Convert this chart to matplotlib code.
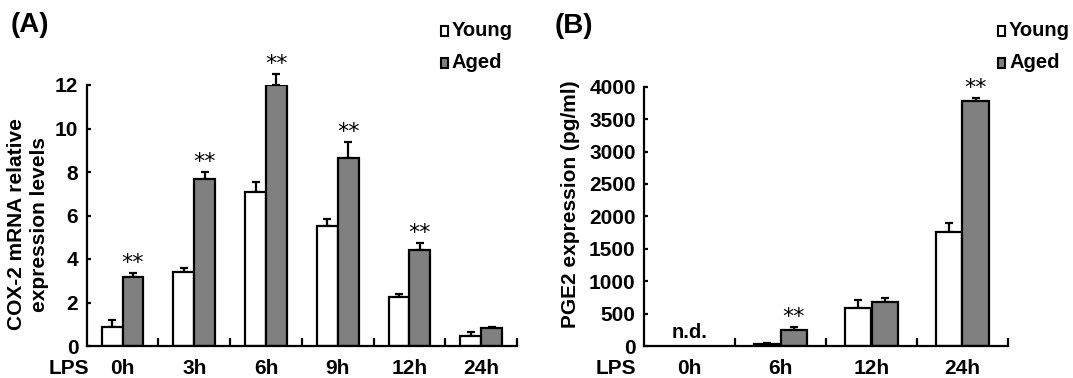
import numpy as np
import matplotlib
matplotlib.use("Agg")
import matplotlib.pyplot as plt
from matplotlib.patches import Rectangle

plt.rcParams['font.family'] = ['Liberation Sans', 'DejaVu Sans']
plt.rcParams['font.weight'] = 'bold'

# panel A: COX-2 mRNA
times_a = ["0h", "3h", "6h", "9h", "12h", "24h"]
young_a = [0.89, 3.40, 7.08, 5.53, 2.24, 0.46]
young_a_err = [0.31, 0.17, 0.47, 0.29, 0.15, 0.20]
aged_a = [3.19, 7.68, 12.0, 8.63, 4.41, 0.81]
aged_a_err = [0.15, 0.32, 0.50, 0.76, 0.31, 0.08]
sig_a = [True, True, True, True, True, False]

# panel B: PGE2
times_b = ["0h", "6h", "12h", "24h"]
young_b = [np.nan, 25, 591, 1763]
young_b_err = [np.nan, 26, 119, 129]
aged_b = [np.nan, 247, 674, 3784]
aged_b_err = [np.nan, 51, 62, 37]
sig_b = [False, True, False, True]

W, H = 1073, 378
fig = plt.figure(figsize=(W / 100, H / 100), dpi=100)


def px(x, y):
    return x / W, 1 - y / H


def draw_panel(rect, times, young, young_err, aged, aged_err, sig, ymax, yticks):
    ax = fig.add_axes(rect)
    n = len(times)
    pos = np.arange(n) + 0.5
    w = 0.29
    ax.bar(pos - w / 2, young, w, color='white', edgecolor='black', linewidth=1.6, zorder=2)
    ax.bar(pos + w / 2, aged, w, color='#808080', edgecolor='black', linewidth=1.6, zorder=2)
    zeros = np.zeros(n)
    ax.errorbar(pos - w / 2, young, yerr=[zeros, young_err], fmt='none', ecolor='black',
                elinewidth=1.6, capsize=3, capthick=1.6, zorder=1, clip_on=False)
    ax.errorbar(pos + w / 2, aged, yerr=[zeros, aged_err], fmt='none', ecolor='black',
                elinewidth=1.6, capsize=3, capthick=1.6, zorder=1, clip_on=False)
    for i in range(n):
        if sig[i]:
            ax.text(pos[i] + w / 2, aged[i] + aged_err[i], "**", ha='center',
                    va='bottom', fontsize=16, fontweight='normal', family='DejaVu Sans')
    ax.set_xlim(0, n)
    ax.set_ylim(0, ymax)
    ax.set_yticks(yticks)
    ax.set_xticks(pos)
    ax.set_xticklabels(times)
    ax.set_xticks(np.arange(1, n + 1), minor=True)
    ax.tick_params(axis='x', which='major', length=0, pad=9, labelsize=15)
    ax.tick_params(axis='x', which='minor', direction='in', length=6, width=1.6)
    ax.tick_params(axis='y', direction='in', length=3, width=1.6, pad=6, labelsize=15)
    for s in ['top', 'right']:
        ax.spines[s].set_visible(False)
    for s in ['left', 'bottom']:
        ax.spines[s].set_linewidth(1.6)
    return ax


ax_a = draw_panel([86.7 / W, 32 / H, 430.3 / W, 261 / H], times_a, young_a, young_a_err,
                  aged_a, aged_a_err, sig_a, 12, [0, 2, 4, 6, 8, 10, 12])
ax_b = draw_panel([644 / W, 32 / H, 364 / W, 259.3 / H], times_b, young_b, young_b_err,
                  aged_b, aged_b_err, sig_b, 4000, range(0, 4001, 500))
ax_b.text(0.5, 60, "n.d.", ha='center', va='bottom', fontsize=14.5)

# panel letters
fig.text(*px(11, 25), "(A)", fontsize=20, va='center', ha='left')
fig.text(*px(555, 26), "(B)", fontsize=20, va='center', ha='left')

# LPS labels
fig.text(*px(69, 368), "LPS", fontsize=15, ha='center', va='center')
fig.text(*px(616, 368), "LPS", fontsize=15, ha='center', va='center')

# y labels
fig.text(*px(28, 224), "COX-2 mRNA relative\nexpression levels", rotation=90,
         ha='center', va='center', multialignment='center', fontsize=15, linespacing=1.25)
fig.text(*px(570, 204), "PGE2 expression (pg/ml)", rotation=90,
         ha='center', va='center', fontsize=15)

# legends
for sx, tx in [(441, 452), (998, 1009)]:
    for sy, label, col in [(26, "Young", 'white'), (58, "Aged", '#808080')]:
        x0, y0 = px(sx, sy + 10)
        fig.patches.append(Rectangle((x0, y0), 7 / W, 10 / H, transform=fig.transFigure,
                                     facecolor=col, edgecolor='black', linewidth=1.5))
        fig.text(*px(tx, sy + 5), label, fontsize=14.5, ha='left', va='center')

fig.savefig("out.png", dpi=100)
